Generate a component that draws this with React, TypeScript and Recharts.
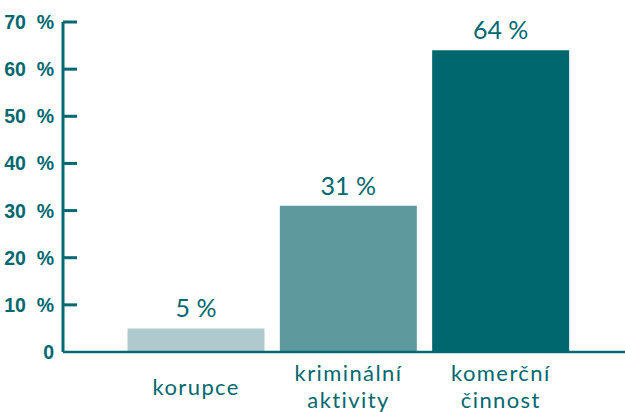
import { BarChart, Bar, XAxis, YAxis, Cell, LabelList } from 'recharts';

const categories = ['korupce', 'kriminální aktivity', 'komerční činnost'];
const shares = [5, 31, 64];
const yTicks = [0, 10, 20, 30, 40, 50, 60, 70];

const BAR_COLORS = ['#b0c9cc', '#5e999e', '#00676f'];
const TEAL = '#006870';
const FONT = 'Lato, "Open Sans", sans-serif';

const data = categories.map((name, i) => ({ name, value: shares[i] }));

function YTick(props: any) {
  const { x, y, payload } = props;
  const label = payload.value === 0 ? '0' : `${payload.value}\u00A0 %`;
  return (
    <g>
      {payload.value !== 0 && (
        <line x1={x} y1={y} x2={x + 14} y2={y} stroke={TEAL} strokeWidth={3} />
      )}
      <text
        x={x - 9}
        y={y}
        dy={7}
        textAnchor="end"
        fill={TEAL}
        fontFamily='"Liberation Sans Narrow", sans-serif'
        fontWeight="bold"
        fontSize={19.5}
      >
        {label}
      </text>
    </g>
  );
}

function XTick(props: any) {
  const { x, payload } = props;
  const words: string[] = payload.value.split(' ');
  const lineH = 27;
  const mid = 394.5;
  const start = mid - ((words.length - 1) * lineH) / 2;
  return (
    <g>
      {words.map((w, i) => (
        <text
          key={w}
          x={x}
          y={start + i * lineH}
          textAnchor="middle"
          fill={TEAL}
          fontFamily={FONT}
          fontSize={22}
          letterSpacing={1.4}
        >
          {w}
        </text>
      ))}
    </g>
  );
}

export default function App() {
  return (
    <div style={{ position: 'absolute', left: 0, top: 0, background: '#fff' }}>
      <BarChart
        width={625}
        height={412}
        data={data}
        margin={{ top: 22, right: 0, bottom: 0, left: 0 }}
        barCategoryGap={7.5}
      >
        <XAxis
          dataKey="name"
          height={60}
          padding={{ left: 57, right: 48 }}
          axisLine={{ stroke: TEAL, strokeWidth: 2.5 }}
          tickLine={false}
          tick={<XTick />}
          interval={0}
        />
        <YAxis
          width={63}
          domain={[0, 70]}
          ticks={yTicks}
          axisLine={{ stroke: TEAL, strokeWidth: 3 }}
          tickLine={false}
          tickSize={0}
          tickMargin={0}
          tick={<YTick />}
          interval={0}
        />
        <Bar dataKey="value" isAnimationActive={false}>
          {data.map((d, i) => (
            <Cell key={d.name} fill={BAR_COLORS[i]} />
          ))}
          <LabelList
            dataKey="value"
            position="top"
            offset={11}
            formatter={(v: any) => `${v} %`}
            fill={TEAL}
            fontFamily={FONT}
            fontSize={25}
          />
        </Bar>
      </BarChart>
    </div>
  );
}
